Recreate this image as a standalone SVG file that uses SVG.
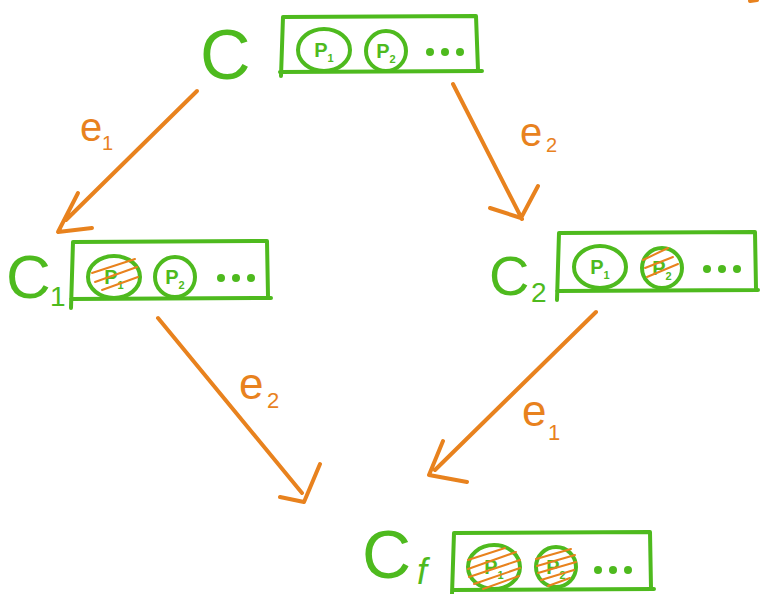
<svg xmlns="http://www.w3.org/2000/svg" width="768" height="594" viewBox="0 0 768 594">
  <style>
    .ink { fill: none; stroke: #4EBA1E; stroke-width: 4; stroke-linecap: round; stroke-linejoin: round; }
    .hatch { fill: none; stroke: #E8821E; stroke-width: 2; stroke-linecap: round; }
    .edge { fill: none; stroke: #E8821E; stroke-width: 4; stroke-linecap: round; stroke-linejoin: round; }
    .dot { fill: #4EBA1E; }
    .big { font-family: "Liberation Sans", Arial, sans-serif; fill: #4EBA1E; }
    .p { font-family: "Liberation Sans", Arial, sans-serif; fill: #4EBA1E; font-size: 20px; font-weight: bold; }
    .lbl { font-family: "Liberation Sans", Arial, sans-serif; fill: #E8821E; }
  </style>
  <rect width="768" height="594" fill="#ffffff"/>

  <!-- configuration C -->
  <g id="node-c">
    <text class="big" x="200" y="79" font-size="70">C</text>
    <path class="ink" d="M283,17 L476,16 L478,70 M280,72 L482,71 M283,17 L281,76"/>
    <ellipse class="ink" cx="324" cy="50" rx="26" ry="21"/>
    <text class="p" x="324" y="57" text-anchor="middle">P<tspan font-size="11" dy="5">1</tspan></text>
    <circle class="ink" cx="386" cy="51" r="20"/>
    <text class="p" x="386" y="58" text-anchor="middle">P<tspan font-size="11" dy="5">2</tspan></text>
    <circle class="dot" cx="430" cy="52" r="4"/>
    <circle class="dot" cx="445" cy="52" r="4"/>
    <circle class="dot" cx="460" cy="52" r="4"/>
  </g>

  <!-- configuration C1 -->
  <g id="node-c1">
    <text class="big" x="6" y="298" font-size="62">C</text>
    <text class="big" x="50" y="306" font-size="28">1</text>
    <path class="ink" d="M73,242 L267,241 L268,296 M71,299 L271,298 M73,242 L71,308"/>
    <ellipse class="ink" cx="114" cy="277" rx="26" ry="21"/>
    <text class="p" x="114" y="284" text-anchor="middle">P<tspan font-size="11" dy="5">1</tspan></text>
    <path class="hatch" d="M92,273 L135,259 M95,282 L137,267 M102,290 L138,277"/>
    <circle class="ink" cx="175" cy="277" r="20"/>
    <text class="p" x="175" y="284" text-anchor="middle">P<tspan font-size="11" dy="5">2</tspan></text>
    <circle class="dot" cx="221" cy="278" r="4"/>
    <circle class="dot" cx="236" cy="278" r="4"/>
    <circle class="dot" cx="251" cy="278" r="4"/>
  </g>

  <!-- configuration C2 -->
  <g id="node-c2">
    <text class="big" x="489" y="295" font-size="56">C</text>
    <text class="big" x="531" y="302" font-size="28">2</text>
    <path class="ink" d="M559,233 L755,232 L756,288 M557,291 L758,290 M559,233 L557,300"/>
    <ellipse class="ink" cx="600" cy="267" rx="26" ry="21"/>
    <text class="p" x="600" y="274" text-anchor="middle">P<tspan font-size="11" dy="5">1</tspan></text>
    <circle class="ink" cx="662" cy="268" r="20"/>
    <text class="p" x="662" y="275" text-anchor="middle">P<tspan font-size="11" dy="5">2</tspan></text>
    <path class="hatch" d="M643,260 L668,248 M645,268 L673,257 M647,277 L678,264"/>
    <circle class="dot" cx="707" cy="269" r="4"/>
    <circle class="dot" cx="722" cy="269" r="4"/>
    <circle class="dot" cx="737" cy="269" r="4"/>
  </g>

  <!-- final configuration -->
  <g id="node-cf">
    <text class="big" x="362" y="578" font-size="68">C</text>
    <text class="big" x="417" y="584" font-size="36" font-family="Liberation Serif, serif" font-style="italic">f</text>
    <path class="ink" d="M454,533 L650,532 L651,588 M452,590 L654,589 M454,533 L452,594"/>
    <ellipse class="ink" cx="494" cy="567" rx="26" ry="22"/>
    <text class="p" x="494" y="574" text-anchor="middle">P<tspan font-size="11" dy="5">1</tspan></text>
    <path class="hatch" d="M468,560 L505,548 M468,569 L516,552 M469,577 L520,560 M474,584 L520,568 M483,589 L519,576"/>
    <circle class="ink" cx="556" cy="567" r="20"/>
    <text class="p" x="556" y="574" text-anchor="middle">P<tspan font-size="11" dy="5">2</tspan></text>
    <path class="hatch" d="M536,559 L571,549 M537,566 L575,555 M538,573 L576,562 M541,580 L574,570 M548,586 L570,578"/>
    <circle class="dot" cx="598" cy="570" r="4"/>
    <circle class="dot" cx="613" cy="570" r="4"/>
    <circle class="dot" cx="628" cy="570" r="4"/>
  </g>

  <!-- transitions -->
  <g id="edges">
    <path class="edge" d="M197,91 L66,220 M78,193 L58,232 L92,228"/>
    <text class="lbl" x="80" y="141" font-size="40">e</text>
    <text class="lbl" x="102" y="150" font-size="20">1</text>

    <path class="edge" d="M453,84 L522,219 M490,208 L521,218 L538,186"/>
    <text class="lbl" x="520" y="146" font-size="40">e</text>
    <text class="lbl" x="546" y="152" font-size="20">2</text>

    <path class="edge" d="M158,318 L302,493 M280,497 L304,502 L320,464"/>
    <text class="lbl" x="239" y="399" font-size="44">e</text>
    <text class="lbl" x="267" y="408" font-size="22">2</text>

    <path class="edge" d="M596,312 L435,470 M443,441 L429,475 L467,482"/>
    <text class="lbl" x="522" y="426" font-size="44">e</text>
    <text class="lbl" x="548" y="440" font-size="22">1</text>

    <path class="edge" d="M750,1 L757,0" stroke-width="3"/>
  </g>
</svg>
